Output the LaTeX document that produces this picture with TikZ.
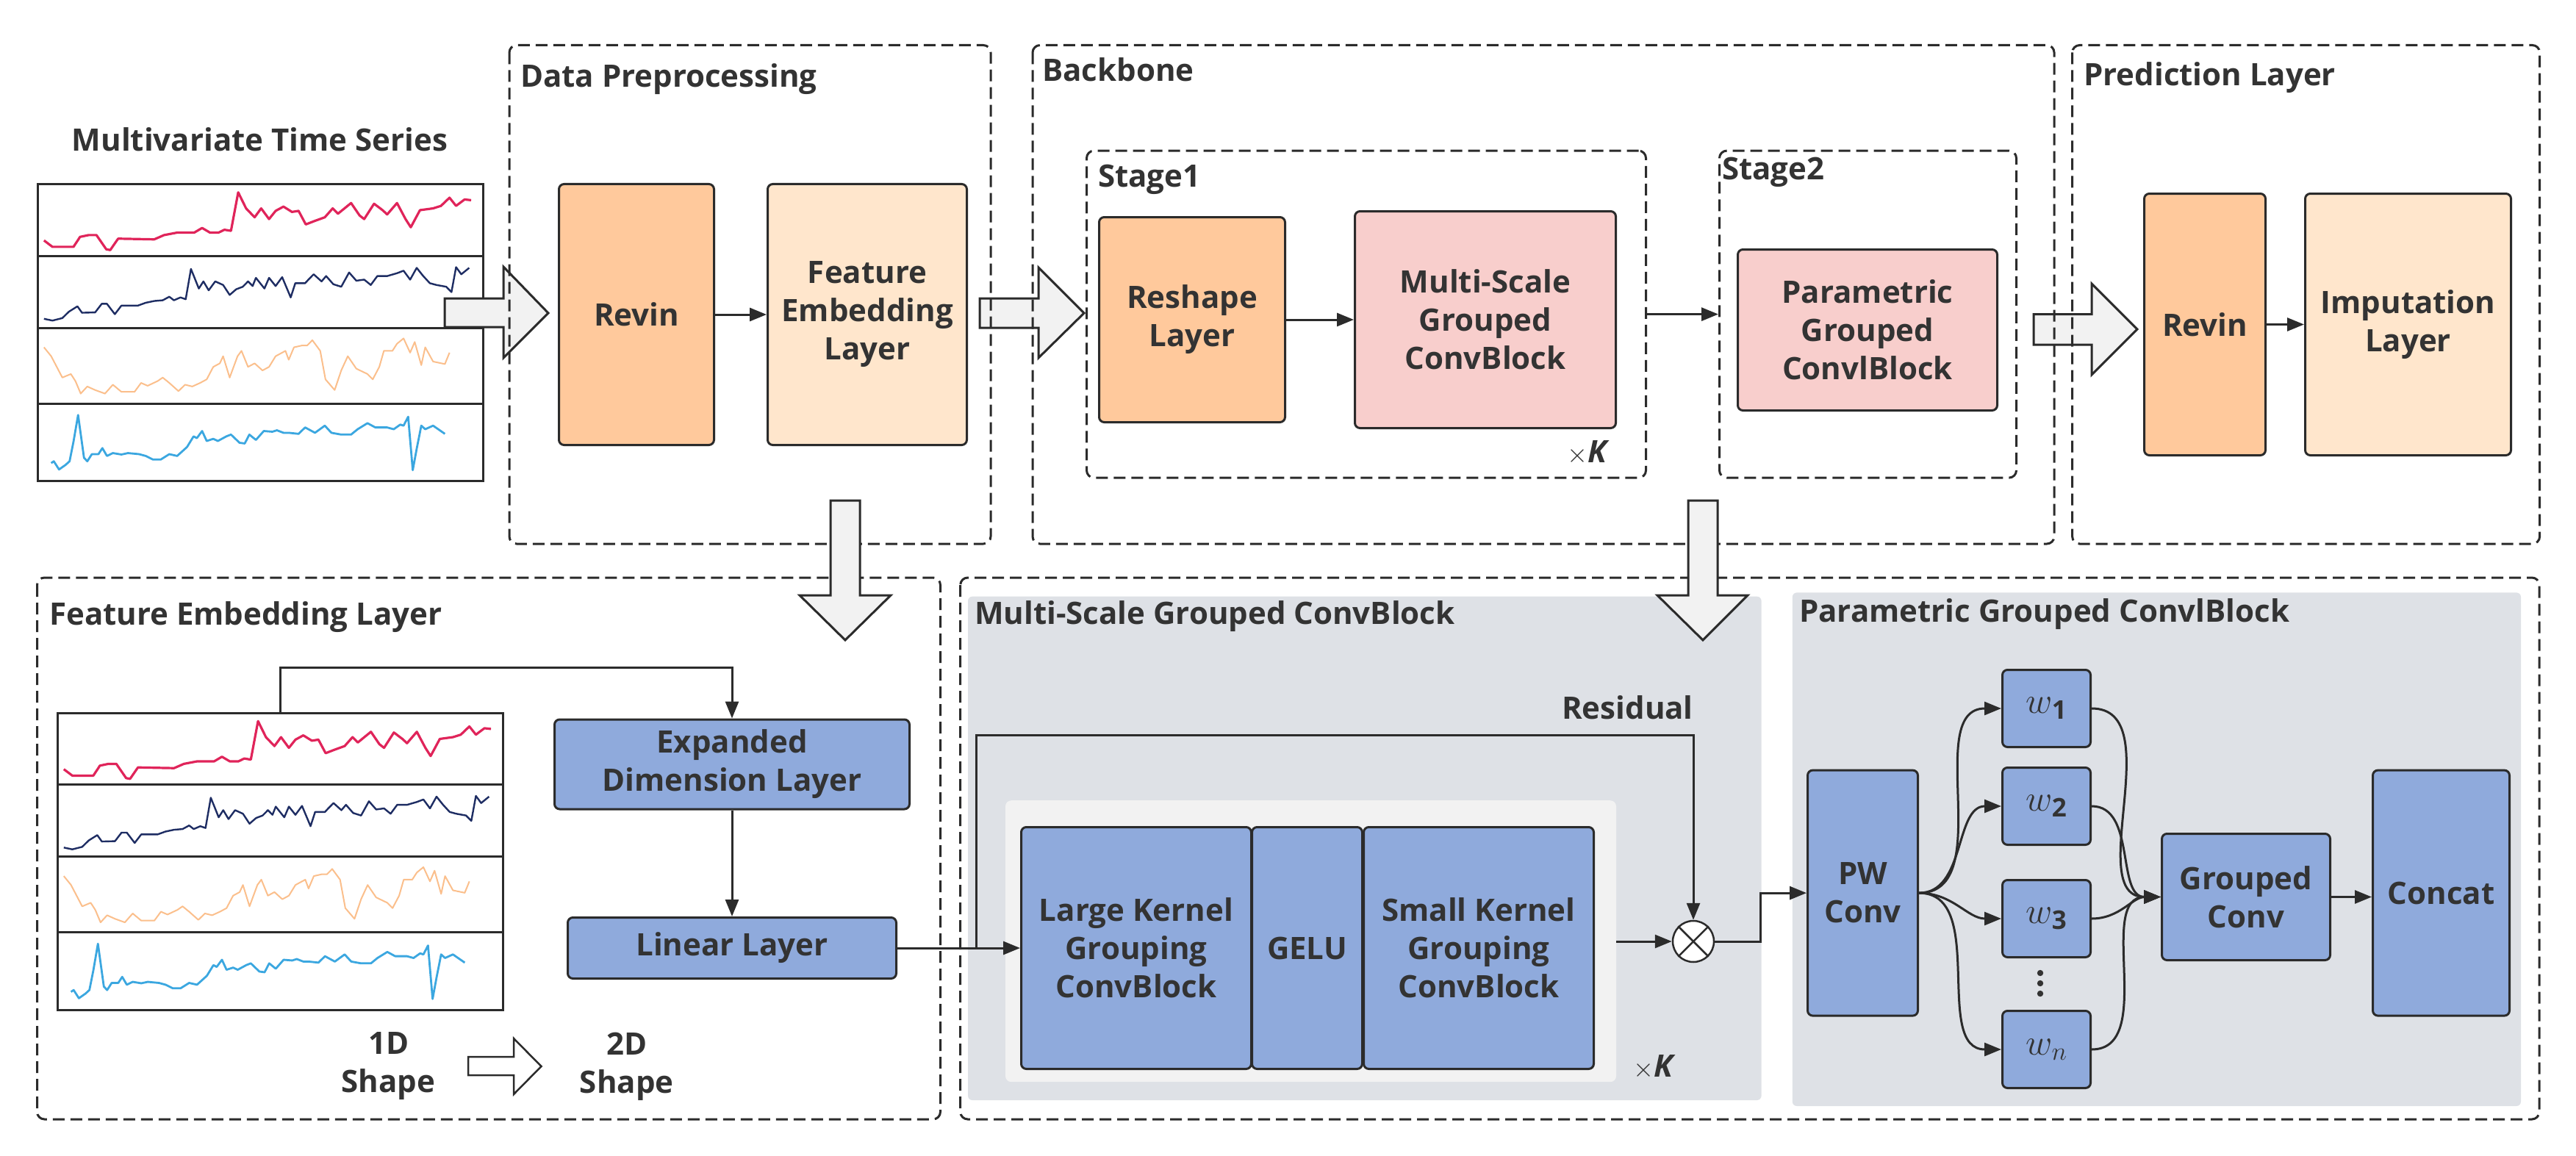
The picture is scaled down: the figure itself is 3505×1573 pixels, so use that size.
\RequirePackage{fix-cm}
\documentclass[tikz,border=0pt]{standalone}
\usepackage{fontspec}
\setmainfont{Open Sans}
\usetikzlibrary{arrows.meta}
\definecolor{txt}{HTML}{333333}
\definecolor{ln}{HTML}{2B2B2B}
\definecolor{revinc}{HTML}{FFC99C}
\definecolor{featc}{HTML}{FFE6CC}
\definecolor{pinkc}{HTML}{F8CECC}
\definecolor{bluec}{HTML}{8FAADC}
\definecolor{grayp}{HTML}{DEE1E6}
\definecolor{lightp}{HTML}{F2F2F2}
\definecolor{arrf}{HTML}{F2F2F2}
\definecolor{tsred}{HTML}{E0245A}
\definecolor{tsnavy}{HTML}{1E2D63}
\definecolor{tsorange}{HTML}{FBBF8C}
\definecolor{tsblue}{HTML}{3BA7E0}
\tikzset{
  lbl/.style={font=\fontsize{42}{52}\selectfont\bfseries, text=txt, align=center, inner sep=0pt},
  blk/.style={draw=ln, line width=3pt, rounded corners=7pt, lbl, anchor=north west},
  dbox/.style={draw=ln, line width=3pt, dash pattern=on 16pt off 8pt, rounded corners=10pt},
  conn/.style={draw=ln, line width=3pt, -{Triangle[length=23pt,width=18pt]}},
  bigarr/.style={draw=ln, line width=3pt, fill=arrf, line join=miter},
  tsframe/.style={draw=ln, line width=3pt, minimum width=606pt, minimum height=404pt, anchor=north west, inner sep=0pt},
  wmath/.style={font=\fontsize{50}{52}\selectfont, text=txt}
}
\newcommand{\tspanel}[1]{%
  \node[tsframe, fill=white] (#1) at (50,249) {};
  \draw[ln, line width=3pt] (50,348) -- (656,348) (50,446) -- (656,446) (50,549) -- (656,549);
  \begin{scope}[xscale=0.89286, yscale=0.48469, line join=round]
  \draw[tsred, line width=3.2pt] plot coordinates {(67,675) (80,693) (112,693) (122,665) (135,660) (147,660) (162,700) (168,702) (180,670) (235,672) (250,660) (270,653) (296,653) (308,640) (320,653) (333,653) (342,645) (352,648) (363,540) (375,585) (388,610) (398,585) (410,615) (420,592) (432,580) (445,595) (455,592) (466,630) (480,620) (495,610) (507,585) (515,600) (535,570) (548,605) (555,615) (570,572) (583,590) (590,602) (605,570) (618,615) (626,638) (640,590) (660,585) (672,578) (685,555) (695,578) (708,560) (718,562)};
  \draw[tsnavy, line width=2.4pt] plot coordinates {(67,895) (80,900) (95,893) (105,875) (118,860) (125,878) (145,877) (155,853) (163,853) (175,882) (185,858) (210,858) (222,850) (235,845) (248,843) (258,833) (265,843) (275,835) (283,840) (291,755) (303,810) (310,790) (318,815) (328,790) (340,800) (350,828) (360,812) (370,805) (378,790) (385,803) (390,780) (403,810) (410,780) (420,803) (430,778) (443,835) (450,795) (465,795) (470,785) (478,770) (490,790) (497,775) (508,798) (520,805) (532,765) (543,788) (555,785) (565,800) (575,775) (590,775) (605,767) (615,760) (625,785) (635,752) (645,775) (655,795) (665,800) (680,805) (688,820) (695,750) (703,770) (715,752)};
  \draw[tsorange, line width=2pt] plot coordinates {(67,975) (78,1000) (95,1060) (108,1050) (115,1070) (123,1105) (133,1085) (145,1095) (160,1105) (172,1080) (185,1100) (205,1100) (215,1075) (225,1083) (240,1070) (248,1060) (258,1075) (272,1098) (282,1080) (293,1085) (305,1075) (315,1065) (325,1030) (335,1020) (340,1000) (350,1060) (362,1000) (368,985) (378,1030) (388,1020) (400,1040) (410,1030) (420,1000) (435,985) (440,1010) (448,975) (460,970) (468,970) (476,955) (488,985) (496,1065) (510,1095) (520,1040) (530,1000) (543,1035) (560,1050) (568,1065) (578,1030) (585,985) (598,985) (605,965) (615,950) (625,990) (632,960) (642,1025) (648,975) (660,1015) (678,1022) (685,990)};
  \draw[tsblue, line width=2.8pt] plot coordinates {(78,1300) (82,1295) (90,1318) (100,1305) (106,1295) (112,1240) (119,1165) (128,1285) (133,1295) (140,1275) (150,1275) (156,1258) (163,1280) (172,1272) (185,1276) (195,1272) (212,1275) (222,1280) (233,1290) (245,1290) (258,1275) (270,1280) (285,1255) (295,1225) (300,1230) (308,1210) (315,1238) (325,1232) (332,1238) (345,1225) (352,1220) (365,1243) (373,1245) (380,1220) (390,1235) (402,1210) (415,1212) (422,1208) (432,1215) (440,1215) (455,1218) (465,1200) (480,1215) (495,1195) (505,1215) (520,1220) (535,1220) (545,1205) (560,1188) (572,1200) (590,1200) (600,1205) (610,1192) (615,1195) (622,1170) (629,1320) (635,1260) (642,1195) (648,1205) (660,1195) (678,1218)};
  \end{scope}
}
\begin{document}
\begin{tikzpicture}[x=1pt,y=-1pt]
\fill[white] (0,0) rectangle (3505,1573);
\useasboundingbox (0,0) rectangle (3505,1573);

% gray panels
\fill[grayp, rounded corners=6pt] (1317,811.7) rectangle (2396.6,1497);
\fill[grayp, rounded corners=6pt] (2438.8,806.4) rectangle (3430,1505);
\node[fill=lightp, rounded corners=8pt, minimum width=831pt, minimum height=383pt, anchor=north west, inner sep=0pt] (lp) at (1367.8,1089) {};

% time series panels
\tspanel{tsA}
\begin{scope}[shift={(27,719.5)}]
\tspanel{tsB}
\end{scope}

% horizontal big arrows
\draw[bigarr] (605,406) -- (685,406) -- (685,363) -- (746,426) -- (685,487) -- (685,445) -- (605,445) -- cycle;
\draw[bigarr] (1333,406) -- (1413,406) -- (1413,364) -- (1475,426) -- (1413,487) -- (1413,446) -- (1333,446) -- cycle;
\draw[bigarr] (2767,427.5) -- (2846,427.5) -- (2846,386) -- (2908,448) -- (2846,510) -- (2846,469) -- (2767,469) -- cycle;

% dashed boxes
\draw[dbox] (693,61.5) rectangle (1348,740);
\draw[dbox] (1405,61.5) rectangle (2795,740);
\draw[dbox] (2819.6,61.5) rectangle (3455.6,740);
\node[dbox, minimum width=761pt, minimum height=445pt, anchor=north west, inner sep=0pt] (st1) at (1477,203.6) {};
\node[dbox, minimum width=404pt, minimum height=445pt, anchor=north west, inner sep=0pt] (st2) at (2338,203.6) {};
\draw[dbox] (50.5,786) rectangle (1279.5,1523);
\draw[dbox] (1306.7,786) rectangle (3455,1523);

% down big arrows
\draw[bigarr] (1130,681) -- (1170,681) -- (1170,810) -- (1212,810) -- (1150,871) -- (1088,810) -- (1130,810) -- cycle;
\draw[bigarr] (2297,681) -- (2337,681) -- (2337,810) -- (2378,810) -- (2317,871) -- (2255,810) -- (2297,810) -- cycle;
\draw[draw=ln, line width=2.5pt, fill=white, line join=miter] (637,1438) -- (699,1438) -- (699,1413) -- (736.5,1451) -- (699,1489) -- (699,1463) -- (637,1463) -- cycle;

% titles
\node[lbl] (tmts) at (353.5,190) {Multivariate Time Series};
\node[lbl, anchor=west] (tdp) at (708,108) {Data Preprocessing};
\node[lbl, anchor=west] (tbb) at (1418,95) {Backbone};
\node[lbl, anchor=west] (tpl) at (2835,106) {Prediction Layer};
\node[lbl, anchor=west] (ts1) at (1494,244) {Stage1};
\node[lbl, anchor=west] (ts2) at (2343,234) {Stage2};
\node[lbl, anchor=west] (tfel) at (67,840) {Feature Embedding Layer};
\node[lbl, anchor=west] (tmsg) at (1326,839) {Multi-Scale Grouped ConvBlock};
\node[lbl, anchor=west] (tpgc) at (2448,836) {Parametric Grouped ConvlBlock};
\node[lbl, anchor=east] (tres) at (2304,963) {Residual};
\node[lbl] (t1d) at (528.6,1451) {1D\\Shape};
\node[lbl] (t2d) at (852.7,1451) {2D\\Shape};
\node[lbl] (k1) at (2161,616) {{\fontsize{36}{36}\selectfont\(\times\)}\textit{K}};
\node[lbl] (k2) at (2251,1452) {{\fontsize{36}{36}\selectfont\(\times\)}\textit{K}};

% blocks top
\node[blk, fill=revinc, minimum width=211pt, minimum height=355pt] (revA) at (759,249) {Revin};
\node[blk, fill=featc, minimum width=271pt, minimum height=355pt] (felA) at (1043,249) {Feature\\Embedding\\Layer};
\node[blk, fill=revinc, minimum width=253pt, minimum height=279pt] (resh) at (1494,294) {Reshape\\Layer};
\node[blk, fill=pinkc, minimum width=355pt, minimum height=295pt] (msg) at (1842,286) {Multi-Scale\\Grouped\\ConvBlock};
\node[blk, fill=pinkc, minimum width=353pt, minimum height=219pt] (pgc) at (2363,338) {Parametric\\Grouped\\ConvlBlock};
\node[blk, fill=revinc, minimum width=165pt, minimum height=356pt] (revB) at (2916,262) {Revin};
\node[blk, fill=featc, minimum width=280pt, minimum height=356pt] (imp) at (3135,262) {Imputation\\Layer};

% blocks bottom left
\node[blk, fill=bluec, minimum width=483pt, minimum height=122pt] (exd) at (753,977.5) {Expanded\\Dimension Layer};
\node[blk, fill=bluec, minimum width=447pt, minimum height=83pt] (lin) at (771,1247) {Linear Layer};

% blocks bottom middle
\node[blk, fill=bluec, minimum width=313pt, minimum height=329pt] (lk) at (1388,1124) {Large Kernel\\Grouping\\ConvBlock};
\node[blk, fill=bluec, minimum width=150pt, minimum height=329pt] (gelu) at (1702,1124) {GELU};
\node[blk, fill=bluec, minimum width=313pt, minimum height=329pt] (sk) at (1854,1124) {Small Kernel\\Grouping\\ConvBlock};
\node[circle, draw=ln, fill=white, line width=2.5pt, minimum size=56pt, inner sep=0pt] (ot) at (2304,1281) {};
\draw[ln, line width=2.5pt] (ot.north east) -- (ot.south west) (ot.north west) -- (ot.south east);

% blocks bottom right
\node[blk, fill=bluec, minimum width=150pt, minimum height=334pt] (pw) at (2458,1046.6) {PW\\Conv};
\node[blk, fill=bluec, minimum width=120pt, minimum height=105pt, wmath] (w1) at (2723,910) {\(w_{\mathbf{1}}\)};
\node[blk, fill=bluec, minimum width=120pt, minimum height=105pt, wmath] (w2) at (2723,1043) {\(w_{\mathbf{2}}\)};
\node[blk, fill=bluec, minimum width=120pt, minimum height=105pt, wmath] (w3) at (2723,1196) {\(w_{\mathbf{3}}\)};
\node[blk, fill=bluec, minimum width=120pt, minimum height=105pt, wmath] (wn) at (2723,1374) {\(w_{n}\)};
\fill[txt] (2776,1324) circle (4.2pt) (2776,1338) circle (4.2pt) (2776,1352) circle (4.2pt);
\node[blk, fill=bluec, minimum width=229pt, minimum height=172pt] (gc) at (2940,1133) {Grouped\\Conv};
\node[blk, fill=bluec, minimum width=186pt, minimum height=334pt] (cc) at (3227,1046.6) {Concat};

% connectors
\draw[conn] (revA.east) -- (felA.west);
\draw[conn] (resh.east) -- (msg.west);
\draw[conn] (st1.east) -- (st2.west);
\draw[conn] (revB.east) -- (imp.west);
\coordinate (fbtop) at (0,908);
\draw[conn] (tsB.north) -- (tsB.north |- fbtop) -| (exd.north);
\draw[conn] (exd.south) -- (lin.north);
\draw[conn] (lin.east) -- (lk.west |- lin.east);
\coordinate (rj) at (1328.5,1288.5);
\coordinate (rtop) at (0,1000.4);
\draw[conn] (rj) -- (rj |- rtop) -| (ot.north);
\draw[conn] (lp.east |- ot.west) -- (ot.west);
\coordinate (oj) at (2395,1281);
\draw[conn] (ot.east) -- (oj) |- (pw.west);
\foreach \w in {w1,w2,w3,wn}{
  \draw[conn] (pw.east) to[out=0,in=180] (\w.west);
  \draw[conn] (\w.east) to[out=0,in=180] (gc.west);
}
\draw[conn] (gc.east) -- (gc.east -| cc.west);
\end{tikzpicture}
\end{document}
